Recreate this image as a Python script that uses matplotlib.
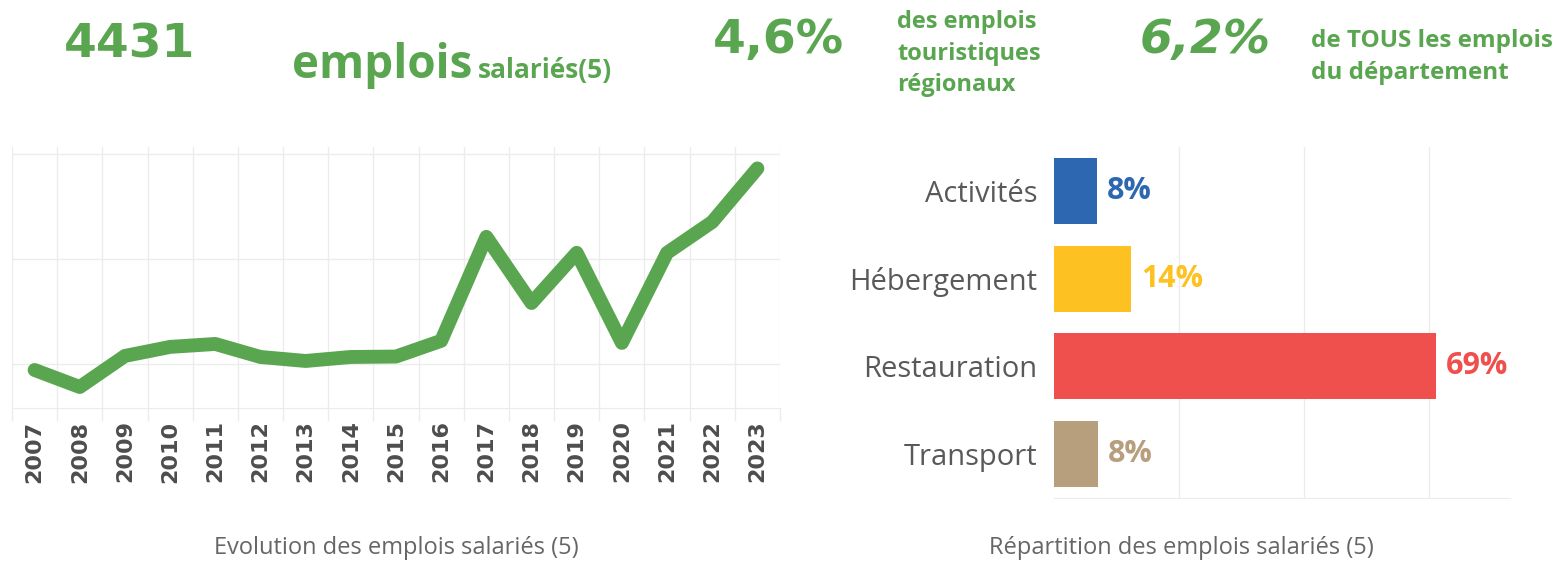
import numpy as np
import matplotlib.pyplot as plt

# ---- data ----
years = [str(y) for y in range(2007, 2024)]
emplois = [3471, 3390, 3538, 3581, 3595, 3533, 3514, 3533, 3535, 3610,
           4105, 3790, 4029, 3600, 4029, 4176, 4431]

secteurs = ["Activités", "Hébergement", "Restauration", "Transport"]
secteur_emplois = [345, 620, 3060, 350]
secteur_pct = ["8%", "14%", "69%", "8%"]
secteur_colors = ["#2e67b1", "#fdc121", "#ef4f4d", "#b79e7d"]

green = "#5aa650"
W, H = 1563, 563

fig = plt.figure(figsize=(W / 100, H / 100), dpi=100)


def fx(px):
    return px / W


def fy(py):
    return 1 - py / H


# ---- header texts ----
num_font = dict(family="DejaVu Sans", weight="bold", color=green)
txt_font = dict(family="Open Sans", weight="bold", color=green)

fig.text(fx(64), fy(57), "4431", fontsize=34, va="baseline", **num_font)
fig.text(fx(292), fy(78), "emplois", fontsize=33, va="baseline", **txt_font)
fig.text(fx(478), fy(78), "salariés(5)", fontsize=19, va="baseline", **txt_font)
fig.text(fx(713), fy(53), "4,6%", fontsize=34, va="baseline", **num_font)
fig.text(fx(897), fy(10), "des emplois\ntouristiques\nrégionaux", fontsize=17,
         va="top", linespacing=1.43, **txt_font)
fig.text(fx(1140), fy(53), "6,2%", fontsize=34, va="baseline", style="italic", **num_font)
fig.text(fx(1311), fy(29), "de TOUS les emplois\ndu département", fontsize=17.5,
         va="top", linespacing=1.43, **txt_font)

# ---- line chart ----
ax1 = fig.add_axes([fx(12), fy(408), fx(780) - fx(12), fy(147) - fy(408)])
x = np.arange(len(years))
ax1.plot(x, emplois, color=green, lw=10, solid_joinstyle="round", solid_capstyle="round")
ax1.set_xlim(-0.5, len(years) - 0.5)
ax1.set_ylim(3290, 4533)
ax1.set_yticks([3500, 4000, 4500])
ax1.set_yticklabels([])
ax1.tick_params(axis="y", length=0)
ax1.set_xticks(x)
ax1.set_xticklabels(years, rotation=90, fontsize=16, fontweight="bold",
                    color="#4d4d4d", family="DejaVu Sans")
ax1.set_xticks(np.arange(-0.5, len(years)), minor=True)
ax1.tick_params(axis="x", which="major", length=0, pad=9)
ax1.tick_params(axis="x", which="minor", length=9, color="#ececec", width=1)
ax1.grid(True, which="minor", axis="x", color="#ececec", lw=1)
ax1.grid(True, which="major", axis="y", color="#ececec", lw=1)
for s in ["top", "right", "left"]:
    ax1.spines[s].set_visible(False)
ax1.spines["bottom"].set_color("#ececec")
ax1.set_axisbelow(True)

fig.text(fx(396), fy(548), "Evolution des emplois salariés (5)", fontsize=17,
         family="Open Sans", color="#666666", ha="center", va="center")

# ---- bar chart ----
ax2 = fig.add_axes([fx(1054), fy(498), fx(1510) - fx(1054), fy(147) - fy(498)])
y = np.arange(len(secteurs))
ax2.barh(y, secteur_emplois, height=0.75, color=secteur_colors)
ax2.set_ylim(len(secteurs) - 0.5, -0.5)
ax2.set_xlim(0, 3650)
ax2.set_xticks([1000, 2000, 3000])
ax2.set_xticklabels([])
ax2.tick_params(axis="x", length=0)
ax2.grid(True, axis="x", color="#ececec", lw=1)
ax2.set_axisbelow(True)
ax2.set_yticks(y)
ax2.set_yticklabels(secteurs, fontsize=21, family="Open Sans", color="#595959")
ax2.tick_params(axis="y", length=0, pad=12)
for s in ["top", "right", "left"]:
    ax2.spines[s].set_visible(False)
ax2.spines["bottom"].set_color("#ececec")
for yi, v, lab, c in zip(y, secteur_emplois, secteur_pct, secteur_colors):
    ax2.annotate(lab, (v, yi), xytext=(7, 0), textcoords="offset points",
                 va="center", ha="left", fontsize=22, fontweight="bold",
                 family="Open Sans", color=c)

fig.text(fx(1181), fy(548), "Répartition des emplois salariés (5)", fontsize=17,
         family="Open Sans", color="#666666", ha="center", va="center")

fig.savefig("out.png", dpi=100)
